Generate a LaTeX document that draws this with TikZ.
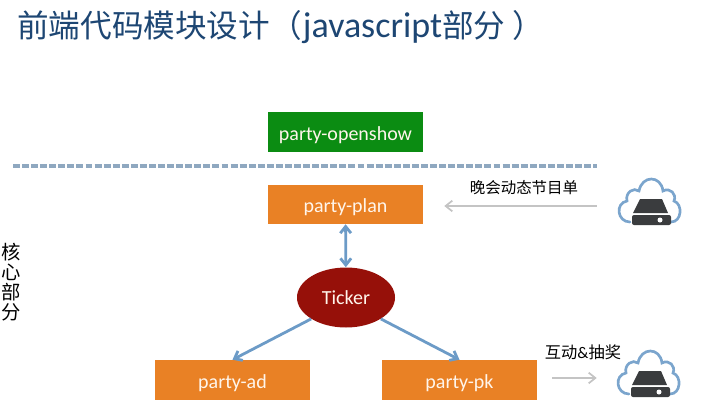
\documentclass[tikz,border=0pt]{standalone}
\usepackage{fontspec}
\setmainfont{Carlito}
\newfontfamily\cjk{Noto Sans CJK SC}
\usetikzlibrary{shapes.geometric,arrows.meta}

\definecolor{titleblue}{HTML}{1D4673}
\definecolor{boxgreen}{HTML}{0B8C12}
\definecolor{boxorange}{HTML}{E98125}
\definecolor{tickerred}{HTML}{961009}
\definecolor{linkblue}{HTML}{6C9BC7}
\definecolor{linkgray}{HTML}{C4C4C4}
\definecolor{dashblue}{HTML}{8FA8C0}
\definecolor{serverdark}{HTML}{3A3C3E}

\tikzset{
  modbox/.style={rectangle,minimum width=116.25pt,minimum height=30pt,inner sep=0pt,text height=12pt,text depth=0pt,text=white!92!orange,font=\fontsize{15pt}{16pt}\selectfont},
  linkblue arrow/.style={draw=linkblue,line width=2.1pt},
  linkgray arrow/.style={draw=linkgray,line width=1.3pt,-{Straight Barb[length=5pt,width=8pt]}},
  cloudicon/.pic={
    \draw[linkblue!90,line width=2pt,line cap=round] (-20,16) .. controls (-33,16) and (-35,-3) .. (-23,-5) .. controls (-25,-14) and (-16,-19) .. (-11,-15) .. controls (-8,-31) and (11,-31) .. (13,-15) .. controls (20,-19) and (27,-12) .. (24,-5) .. controls (33,-2) and (32,16) .. (21,16);
    \fill[serverdark] (-10,-7) -- (12,-7) -- (18,7) -- (-17,7) -- cycle;
    \fill[serverdark,rounded corners=1.5pt] (-18,9) rectangle (21,19);
    \fill[white] (10,14) circle (2.5);
  }
}

\begin{document}
\begin{tikzpicture}[x=.75pt,y=-.75pt]
\useasboundingbox (0,0) rectangle (701,400);
\clip (0,0) rectangle (701,400);

\node (title) [anchor=west,text=titleblue,inner sep=0pt,font=\fontsize{23.7pt}{26pt}\selectfont] at (17,27) {{\cjk 前端代码模块设计（}\kern1pt{\fontsize{27pt}{30pt}\selectfont javascript}{\cjk 部分 ）}};

\node (openshow) [modbox,fill=boxgreen,minimum height=30pt] at (345.5,132) {party-openshow};
\node (plan) [modbox,fill=boxorange,minimum height=29.25pt] at (345.5,204.5) {party-plan};
\node (ticker) [ellipse,fill=tickerred,text=white!92!orange,minimum width=73.5pt,minimum height=45pt,inner sep=0pt,font=\fontsize{15pt}{16pt}\selectfont] at (346,297.5) {Ticker};
\node (ad) [modbox,fill=boxorange] at (232.5,380) {party-ad};
\node (pk) [modbox,fill=boxorange] at (459.5,380) {party-pk};

\node (core) [align=center,inner sep=0pt,font=\cjk\fontsize{14.5pt}{15pt}\selectfont] at (11,282) {核\\心\\部\\分};

\coordinate (dashL) at (13,166);
\coordinate (dashR) at (597,166);
\draw[dashblue,line width=3pt,dash pattern=on 5.2pt off 1.6pt] (dashL) -- (dashR);

\node (cloudPlan) [minimum width=46.5pt,inner sep=0pt] at (650,206) {};
\node (cloudPk) [minimum width=46.5pt,inner sep=0pt] at (649,378) {};
\pic at (cloudPlan) {cloudicon};
\pic at (cloudPk) {cloudicon};

\node (planLabel) [inner sep=0pt,font=\cjk\fontsize{11.6pt}{14pt}\selectfont] at (524,188) {晚会动态节目单};
\node (pkLabel) [inner sep=0pt,font=\fontsize{12.2pt}{14pt}\selectfont] at (583,352) {{\cjk 互动}\&{\cjk 抽奖}};

\draw[linkblue arrow,{Straight Barb[length=5pt,width=8pt]}-{Straight Barb[length=5pt,width=8pt]}] (plan) -- (ticker);
\foreach \i/\j in {ticker.south west/ad.north, ticker.south east/pk.north}
    \draw[linkblue arrow,-{Straight Barb[length=5pt,width=8pt]}] (\i) -- (\j);

\draw[linkgray arrow,shorten <=16.5pt,shorten >=15.75pt] (cloudPlan.west) -- (cloudPlan.west -| plan.east);
\draw[linkgray arrow,shorten <=11.25pt,shorten >=15.75pt] (cloudPk.west -| pk.east) -- (cloudPk.west);

\end{tikzpicture}
\end{document}
